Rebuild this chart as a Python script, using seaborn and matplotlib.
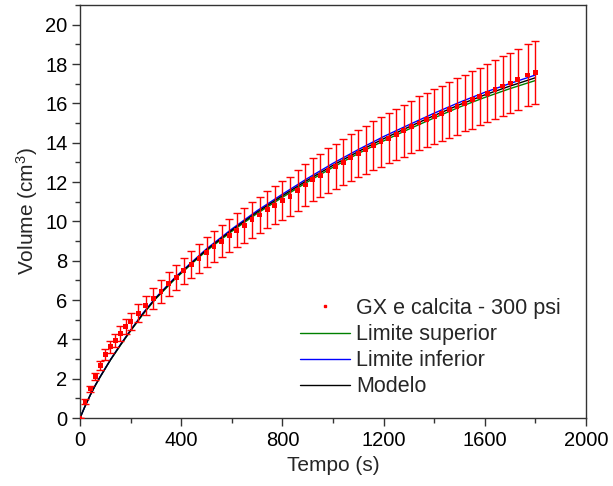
import matplotlib
matplotlib.use("Agg")
import matplotlib.pyplot as plt
import pandas as pd
import seaborn as sns
from matplotlib.lines import Line2D
from matplotlib.ticker import MultipleLocator

# Measured filtrate volume (cm3) with its uncertainty
tempo = [0, 20, 40, 60, 80, 100, 120, 140, 160, 180, 200,
         230, 260, 290, 320, 350, 380, 410, 440, 470, 500,
         530, 560, 590, 620, 650, 680, 710, 740, 770, 800,
         830, 860, 890, 920, 950, 980, 1010, 1040, 1070, 1100,
         1130, 1160, 1190, 1220, 1250, 1280, 1310, 1340, 1370, 1400,
         1430, 1460, 1490, 1520, 1550, 1580, 1610, 1640, 1670, 1700,
         1730, 1770, 1800]
volume = [0.00, 0.83, 1.48, 2.10, 2.66, 3.22, 3.62, 3.95, 4.30, 4.64, 4.90,
          5.33, 5.72, 6.09, 6.43, 6.82, 7.16, 7.48, 7.80, 8.10, 8.43,
          8.73, 8.98, 9.26, 9.55, 9.79, 10.08, 10.32, 10.59, 10.82, 11.04,
          11.26, 11.55, 11.85, 12.11, 12.33, 12.58, 12.79, 13.00, 13.24, 13.45,
          13.64, 13.87, 14.04, 14.23, 14.40, 14.60, 14.81, 15.00, 15.17, 15.33,
          15.50, 15.67, 15.84, 16.01, 16.18, 16.35, 16.52, 16.69, 16.88, 17.03,
          17.20, 17.44, 17.57]
erro = [0.00, 0.13, 0.15, 0.19, 0.23, 0.27, 0.30, 0.33, 0.36, 0.39, 0.42,
        0.46, 0.50, 0.54, 0.57, 0.61, 0.64, 0.67, 0.70, 0.73, 0.76,
        0.79, 0.81, 0.84, 0.86, 0.88, 0.91, 0.93, 0.95, 0.97, 0.99,
        1.01, 1.04, 1.07, 1.09, 1.11, 1.13, 1.15, 1.17, 1.19, 1.21,
        1.23, 1.25, 1.26, 1.28, 1.30, 1.31, 1.33, 1.35, 1.37, 1.38,
        1.40, 1.41, 1.43, 1.44, 1.46, 1.47, 1.49, 1.50, 1.52, 1.53,
        1.55, 1.57, 1.59]

# Fitted model and its bounds
tempo_modelo = [0, 20, 40, 60, 80, 120, 160, 200, 250, 300, 375, 450, 500,
                600, 700, 800, 900, 1000, 1100, 1200, 1300, 1400, 1500,
                1600, 1700, 1800]
modelo = [0.00, 0.60, 1.15, 1.65, 2.10, 2.95, 3.72, 4.45, 5.32, 6.10, 7.10,
          7.98, 8.55, 9.55, 10.47, 11.30, 12.10, 12.85, 13.55, 14.20, 14.80,
          15.38, 15.93, 16.43, 16.88, 17.30]
limite_superior = [0.00, 0.60, 1.15, 1.64, 2.09, 2.94, 3.70, 4.43, 5.29, 6.07,
                   7.06, 7.94, 8.50, 9.49, 10.40, 11.22, 12.01, 12.75, 13.45,
                   14.09, 14.69, 15.26, 15.81, 16.30, 16.75, 17.16]
limite_inferior = [0.00, 0.60, 1.15, 1.66, 2.11, 2.96, 3.74, 4.47, 5.35, 6.13,
                   7.14, 8.02, 8.60, 9.61, 10.54, 11.38, 12.19, 12.95, 13.65,
                   14.31, 14.91, 15.50, 16.05, 16.56, 17.01, 17.44]

rotulo_dados = "GX e calcita - 300 psi"
rotulos_curvas = ["Limite superior", "Limite inferior", "Modelo"]
cores_curvas = ["#008000", "#0000ff", "#000000"]

sns.set_style("ticks")
plt.rcParams["font.family"] = ["Liberation Sans", "DejaVu Sans"]
plt.rcParams["mathtext.default"] = "regular"

fig = plt.figure(figsize=(6.13, 4.86), dpi=100)
ax = fig.add_axes([80 / 613, 1 - 418 / 486, 506 / 613, 413 / 486])

curvas = pd.DataFrame({
    "Tempo": tempo_modelo * 3,
    "Volume": limite_superior + limite_inferior + modelo,
    "Curva": [rotulos_curvas[0]] * len(tempo_modelo)
    + [rotulos_curvas[1]] * len(tempo_modelo)
    + [rotulos_curvas[2]] * len(tempo_modelo),
})
sns.lineplot(data=curvas, x="Tempo", y="Volume", hue="Curva",
             hue_order=rotulos_curvas,
             palette=dict(zip(rotulos_curvas, cores_curvas)),
             estimator=None, sort=False, linewidth=1.0, legend=False,
             ax=ax, zorder=2)

ax.errorbar(tempo, volume, yerr=erro, fmt="none", ecolor="#ff0000",
            elinewidth=1.0, capsize=3.0, capthick=1.0, zorder=3)
sns.scatterplot(x=tempo, y=volume, marker="s", s=12, color="#ff0000",
                edgecolor="none", linewidth=0, ax=ax, zorder=4)

ax.set_xlim(0, 2000)
ax.set_ylim(0, 21)
ax.xaxis.set_major_locator(MultipleLocator(400))
ax.xaxis.set_minor_locator(MultipleLocator(200))
ax.yaxis.set_major_locator(MultipleLocator(2))
ax.yaxis.set_minor_locator(MultipleLocator(1))

for lado in ["left", "right", "top", "bottom"]:
    ax.spines[lado].set_visible(True)
    ax.spines[lado].set_color("#333333")
    ax.spines[lado].set_linewidth(1.0)

ax.tick_params(which="major", direction="out", length=6, width=1,
               color="#333333", labelsize=14.5, labelcolor="#000000",
               top=False, right=False, pad=3)
ax.tick_params(which="minor", direction="out", length=3.5, width=1,
               color="#333333", top=False, right=False)

ax.set_xlabel("Tempo (s)", fontsize=15, labelpad=5)
ax.set_ylabel("Volume (cm$^3$)", fontsize=15, labelpad=4)

handles = [
    Line2D([], [], linestyle="none", marker="s", markersize=1.5,
           color="#ff0000"),
    Line2D([], [], color=cores_curvas[0], linewidth=1.0),
    Line2D([], [], color=cores_curvas[1], linewidth=1.0),
    Line2D([], [], color=cores_curvas[2], linewidth=1.0),
]
ax.legend(handles, [rotulo_dados] + rotulos_curvas, loc="upper left",
          bbox_to_anchor=(300 / 613, 1 - 298 / 486),
          bbox_transform=fig.transFigure, frameon=False, fontsize=15.5,
          handlelength=2.33, handletextpad=0.28, labelspacing=0.24,
          borderpad=0, borderaxespad=0)

fig.savefig("out.png", dpi=100)
